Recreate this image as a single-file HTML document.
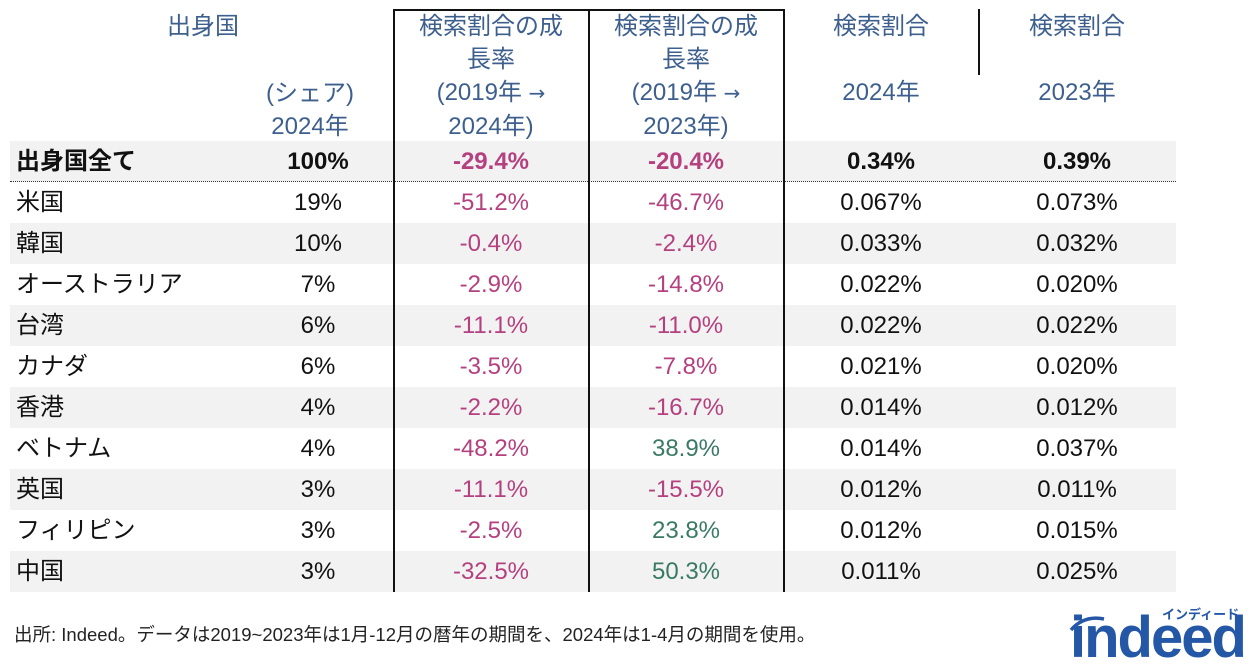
<!DOCTYPE html>
<html><head><meta charset="utf-8">
<style>
body{margin:0;width:1251px;height:671px;background:#fff;position:relative;overflow:hidden;font-family:"Liberation Sans","Noto Sans CJK JP",sans-serif;}
.a{position:absolute;white-space:nowrap;}
.h{color:#3d5f8e;font-size:24px;text-align:center;width:200px;line-height:33px;}
.c{font-size:24px;text-align:center;width:190px;line-height:41px;}
.band{position:absolute;left:10px;width:1166px;height:41px;background:#f2f2f2;}
.vl{position:absolute;width:2px;background:#111;}
.ar{font-family:"DejaVu Sans",sans-serif;font-size:20px;}
</style></head><body>
<div id="tbl"></div>
<div class="vl" style="left:393px;top:9px;height:583px"></div>
<div class="vl" style="left:588px;top:9px;height:583px"></div>
<div class="vl" style="left:783px;top:9px;height:583px"></div>
<div class="vl" style="left:978px;top:9px;height:66px"></div>
<div class="a" style="left:393px;top:9px;width:392px;height:2px;background:#111"></div>

<div class="a h" style="left:103px;top:10px">出身国</div>
<div class="a h" style="left:210px;top:77px">(シェア)<br>2024年</div>
<div class="a h" style="left:391px;top:10px">検索割合の成<br>長率<br>(2019年 <span class="ar">→</span><br>2024年)</div>
<div class="a h" style="left:586px;top:10px">検索割合の成<br>長率<br>(2019年 <span class="ar">→</span><br>2023年)</div>
<div class="a h" style="left:781px;top:10px">検索割合<br><br>2024年</div>
<div class="a h" style="left:977px;top:10px">検索割合<br><br>2023年</div>

<div class="a" style="left:14px;top:621px;font-size:18.5px;color:#222">出所: Indeed。データは2019~2023年は1月-12月の暦年の期間を、2024年は1-4月の期間を使用。</div>
<div class="a" style="left:1066px;top:600px;width:185px;height:70px">
  <div class="a" style="left:96px;top:4px;font-size:13px;font-weight:bold;color:#2557a7">インディード</div>
  <div class="a" style="left:4px;top:4px;font-size:58px;font-weight:bold;color:#2557a7;letter-spacing:-2px">indeed</div>
  <svg class="a" style="left:0;top:12px" width="44" height="22"><path d="M5 18 Q18 3 38 7" stroke="#2557a7" stroke-width="3.5" fill="none"/></svg>
</div>

<script>
const countries=["出身国全て","米国","韓国","オーストラリア","台湾","カナダ","香港","ベトナム","英国","フィリピン","中国"];
const shares=[100,19,10,7,6,6,4,4,3,3,3];
const growth2024=[-29.4,-51.2,-0.4,-2.9,-11.1,-3.5,-2.2,-48.2,-11.1,-2.5,-32.5];
const growth2023=[-20.4,-46.7,-2.4,-14.8,-11.0,-7.8,-16.7,38.9,-15.5,23.8,50.3];
const ratio2024=["0.34","0.067","0.033","0.022","0.022","0.021","0.014","0.014","0.012","0.012","0.011"];
const ratio2023=["0.39","0.073","0.032","0.020","0.022","0.020","0.012","0.037","0.011","0.015","0.025"];
const tbl=document.getElementById('tbl');
const top0=141,rh=41;
function cell(txt,left,top,style,name){
  const d=document.createElement('div');
  d.className='a c';
  d.textContent=txt;
  d.style.left=left+'px';d.style.top=top+'px';
  Object.assign(d.style,style);
  
  
  tbl.appendChild(d);
}
function gcol(v){return v<0?'#b5407f':'#3a7a64';}
function fmt(v){return v.toFixed(1)+'%';}
countries.forEach((c,i)=>{
  const y=top0+i*rh;
  if(i%2===0){
    const b=document.createElement('div');b.className='band';b.style.top=y+'px';
    
    
    tbl.appendChild(b);
  }
  const bold=i===0?{fontWeight:'bold'}:{};
  cell(c,16,y,Object.assign({textAlign:'left',width:'300px',color:'#111'},bold),'country-label');
  cell(shares[i]+'%',223,y,Object.assign({color:'#111'},bold),'share-value');
  cell(fmt(growth2024[i]),396,y,Object.assign({color:gcol(growth2024[i])},bold),'growth-2024-value');
  cell(fmt(growth2023[i]),591,y,Object.assign({color:gcol(growth2023[i])},bold),'growth-2023-value');
  cell(ratio2024[i]+'%',786,y,Object.assign({color:'#111'},bold),'ratio-2024-value');
  cell(ratio2023[i]+'%',982,y,Object.assign({color:'#111'},bold),'ratio-2023-value');
});
const dl=document.createElement('div');
dl.className='a';
dl.style.cssText='left:10px;top:181px;width:1166px;border-top:1px dotted #333';


tbl.appendChild(dl);
</script>
</body></html>
